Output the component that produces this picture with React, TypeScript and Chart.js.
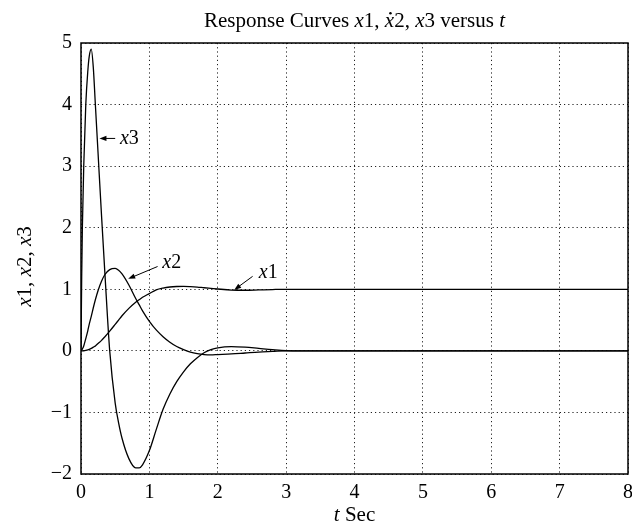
import React, { useEffect, useRef } from "react";
import { Chart, registerables } from "chart.js";

Chart.register(...registerables);

// time samples (s)
const T = [0, 0.01, 0.02, 0.04, 0.07, 0.1, 0.12, 0.15, 0.18, 0.21, 0.25, 0.3, 0.35, 0.42, 0.5, 0.55, 0.6, 0.7, 0.8, 0.85, 0.9, 1.0, 1.1, 1.2, 1.3, 1.4, 1.5, 1.6, 1.7, 1.8, 1.9, 2.0, 2.2, 2.4, 2.6, 2.8, 3.0, 3.5, 4, 5, 6, 7, 8];
const X1 = [0, 0, 0, 0.002, 0.008, 0.017, 0.025, 0.04, 0.06, 0.08, 0.12, 0.17, 0.23, 0.32, 0.43, 0.5, 0.57, 0.69, 0.79, 0.83, 0.87, 0.93, 0.99, 1.02, 1.037, 1.045, 1.047, 1.043, 1.036, 1.025, 1.015, 1.005, 0.988, 0.984, 0.99, 0.996, 1.0, 1.0, 1.0, 1.0, 1.0, 1.0, 1.0];
const X2 = [0, 0.01, 0.03, 0.08, 0.2, 0.33, 0.43, 0.56, 0.7, 0.83, 0.98, 1.13, 1.24, 1.32, 1.34, 1.31, 1.25, 1.07, 0.85, 0.75, 0.65, 0.48, 0.34, 0.23, 0.14, 0.07, 0.02, -0.02, -0.045, -0.06, -0.065, -0.06, -0.05, -0.035, -0.02, -0.01, 0, 0, 0, 0, 0, 0, 0];
const X3 = [0, 1.2, 2.0, 3.0, 4.0, 4.55, 4.78, 4.9, 4.6, 4.0, 3.2, 2.2, 1.25, 0.0, -0.85, -1.17, -1.42, -1.75, -1.9, -1.9, -1.85, -1.62, -1.28, -0.95, -0.7, -0.5, -0.34, -0.21, -0.11, -0.03, 0.02, 0.05, 0.07, 0.06, 0.04, 0.02, 0.005, 0, 0, 0, 0, 0, 0];

const X_MIN = 0;
const X_MAX = 8;
const Y_MIN = -2;
const Y_MAX = 5;

// curve labels: arrow tip, arrow tail, label anchor (data units)
const CURVE_NAMES = ["x3", "x2", "x1"];
const TIP = [[0.27, 3.45], [0.69, 1.17], [2.24, 0.99]];
const TAIL = [[0.5, 3.45], [1.12, 1.37], [2.51, 1.21]];
const ANCHOR = [[0.57, 3.45], [1.19, 1.43], [2.6, 1.27]];

const SERIF = '"Liberation Serif", "Times New Roman", "DejaVu Serif", serif';

type Run = { t: string; i?: boolean; dot?: boolean };

function runsFor(name: string): Run[] {
  return [{ t: name.charAt(0), i: true }, { t: name.slice(1) }];
}

const TITLE_RUNS: Run[] = [
  { t: "Response Curves " },
  { t: "x", i: true },
  { t: "1, " },
  { t: "x", i: true, dot: true },
  { t: "2, " },
  { t: "x", i: true },
  { t: "3 versus " },
  { t: "t", i: true },
];
const YLABEL_RUNS: Run[] = [
  { t: "x", i: true },
  { t: "1, " },
  { t: "x", i: true },
  { t: "2, " },
  { t: "x", i: true },
  { t: "3" },
];
const XLABEL_RUNS: Run[] = [{ t: "t", i: true }, { t: " Sec" }];

function drawRuns(
  ctx: CanvasRenderingContext2D,
  runs: Run[],
  x: number,
  y: number,
  size: number,
  align: "left" | "center"
) {
  const widths = runs.map((r) => {
    ctx.font = `${r.i ? "italic " : ""}${size}px ${SERIF}`;
    return ctx.measureText(r.t).width;
  });
  const total = widths.reduce((a, b) => a + b, 0);
  let cx = align === "center" ? x - total / 2 : x;
  ctx.textAlign = "left";
  runs.forEach((r, k) => {
    ctx.font = `${r.i ? "italic " : ""}${size}px ${SERIF}`;
    ctx.fillText(r.t, cx, y);
    if (r.dot) {
      ctx.beginPath();
      ctx.arc(cx + widths[k] * 0.6, y - size * 0.66, size * 0.06, 0, Math.PI * 2);
      ctx.fill();
    }
    cx += widths[k];
  });
}

const decor = {
  id: "decor",
  afterDatasetsDraw(chart: any) {
    const { ctx, chartArea: a, scales } = chart;
    const xs = scales.x;
    const ys = scales.y;
    ctx.save();
    // frame
    ctx.strokeStyle = "#000";
    ctx.lineWidth = 1.5;
    ctx.strokeRect(a.left, a.top, a.right - a.left, a.bottom - a.top);

    ctx.fillStyle = "#000";
    // title
    ctx.textBaseline = "alphabetic";
    drawRuns(ctx, TITLE_RUNS, (a.left + a.right) / 2, 27, 21, "center");
    // x label
    drawRuns(ctx, XLABEL_RUNS, (a.left + a.right) / 2, 521, 21, "center");
    // y label
    ctx.save();
    ctx.translate(25, (a.top + a.bottom) / 2 + 8);
    ctx.rotate(-Math.PI / 2);
    ctx.textBaseline = "middle";
    drawRuns(ctx, YLABEL_RUNS, 0, 0, 21, "center");
    ctx.restore();

    // curve labels with arrows
    ctx.lineWidth = 1;
    ctx.textBaseline = "middle";
    CURVE_NAMES.forEach((name, k) => {
      const tx = xs.getPixelForValue(TIP[k][0]);
      const ty = ys.getPixelForValue(TIP[k][1]);
      const fx = xs.getPixelForValue(TAIL[k][0]);
      const fy = ys.getPixelForValue(TAIL[k][1]);
      const ang = Math.atan2(ty - fy, tx - fx);
      const L = 7;
      const W = 2.6;
      ctx.beginPath();
      ctx.moveTo(fx, fy);
      ctx.lineTo(tx - Math.cos(ang) * L * 0.6, ty - Math.sin(ang) * L * 0.6);
      ctx.stroke();
      ctx.beginPath();
      ctx.moveTo(tx, ty);
      ctx.lineTo(tx - Math.cos(ang) * L - Math.sin(ang) * W, ty - Math.sin(ang) * L + Math.cos(ang) * W);
      ctx.lineTo(tx - Math.cos(ang) * L + Math.sin(ang) * W, ty - Math.sin(ang) * L - Math.cos(ang) * W);
      ctx.closePath();
      ctx.fill();
      drawRuns(
        ctx,
        runsFor(name),
        xs.getPixelForValue(ANCHOR[k][0]),
        ys.getPixelForValue(ANCHOR[k][1]),
        20,
        "left"
      );
    });
    ctx.restore();
  },
};

export default function App() {
  const ref = useRef<HTMLCanvasElement | null>(null);
  useEffect(() => {
    if (!ref.current) return;
    const pts = (v: number[]) => T.map((t, i) => ({ x: t, y: v[i] }));
    const line = (label: string, v: number[]) => ({
      label,
      data: pts(v),
      borderColor: "#000",
      borderWidth: 1.3,
      pointRadius: 0,
      fill: false,
      cubicInterpolationMode: "monotone" as const,
    });
    const chart = new Chart(ref.current, {
      type: "line",
      data: {
        datasets: [line("x1", X1), line("x2", X2), line("x3", X3)],
      },
      options: {
        animation: false,
        responsive: false,
        devicePixelRatio: 1,
        layout: { padding: { left: 0, top: 43, right: 4, bottom: 0 } },
        plugins: {
          legend: { display: false },
          title: { display: false },
          tooltip: { enabled: false },
        },
        scales: {
          x: {
            type: "linear",
            min: X_MIN,
            max: X_MAX,
            afterFit: (s: any) => {
              s.height = 51;
              s.paddingLeft = 0;
              s.paddingRight = 4;
            },
            ticks: {
              stepSize: 1,
              color: "#000",
              padding: 7,
              font: { family: SERIF, size: 20 },
              maxRotation: 0,
            },
            grid: { color: "#222", lineWidth: 1, drawTicks: false },
            border: { display: false, dash: [1.2, 3] },
          },
          y: {
            type: "linear",
            min: Y_MIN,
            max: Y_MAX,
            afterFit: (s: any) => {
              s.width = 81;
            },
            ticks: {
              stepSize: 1,
              color: "#000",
              padding: 9,
              font: { family: SERIF, size: 20 },
              callback: (v: any) => (Number(v) < 0 ? "\u2212" + Math.abs(Number(v)) : String(v)),
            },
            grid: { color: "#222", lineWidth: 1, drawTicks: false },
            border: { display: false, dash: [1.2, 3] },
          },
        },
      },
      plugins: [decor],
    });
    return () => chart.destroy();
  }, []);
  return (
    <div style={{ position: "fixed", left: 0, top: 0, width: 632, height: 525, background: "#fff" }}>
      <canvas ref={ref} width={632} height={525} />
    </div>
  );
}
